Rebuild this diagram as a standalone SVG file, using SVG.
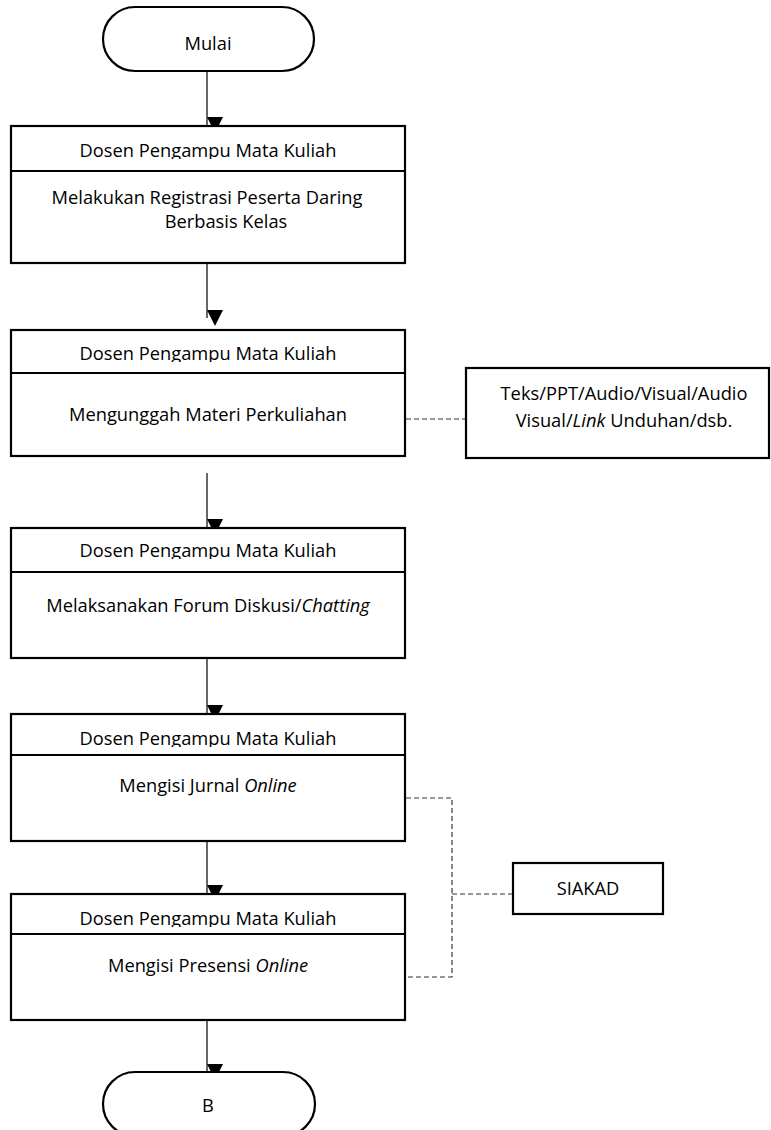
<svg xmlns="http://www.w3.org/2000/svg" width="771" height="1130" viewBox="0 0 771 1130">
<defs>
<style>
.box{fill:#fff;stroke:#000;stroke-width:2.2}
.div{stroke:#000;stroke-width:2.2}
.t{font-family:"Open Sans","Noto Sans",sans-serif;font-size:18.3px;fill:#000;text-anchor:middle}
.i{font-style:italic}
.arr{stroke:#000;stroke-width:1.2;fill:none;marker-end:url(#ah)}
.dash{stroke:#333;stroke-width:1.2;fill:none;stroke-dasharray:5,3}
</style>
<marker id="ah" markerUnits="userSpaceOnUse" markerWidth="16" markerHeight="16" refX="7.5" refY="15" orient="auto-start-reverse" viewBox="0 0 15 15">
<path d="M0,0 L15,0 L7.5,15 Z" fill="#000" transform="rotate(-90 7.5 7.5)"/>
</marker>
<clipPath id="c1"><rect x="11" y="126" width="394" height="33"/></clipPath>
<clipPath id="c2"><rect x="11" y="330" width="394" height="32"/></clipPath>
<clipPath id="c3"><rect x="11" y="528" width="394" height="31"/></clipPath>
<clipPath id="c4"><rect x="11" y="714" width="394" height="33"/></clipPath>
<clipPath id="c6"><rect x="11" y="894" width="394" height="33"/></clipPath>
</defs>
<rect width="771" height="1130" fill="#fff"/>

<g id="connectors">
<line class="arr" x1="207" y1="71" x2="207" y2="125"/>
<line class="arr" x1="207" y1="263" x2="207" y2="318"/>
<line class="arr" x1="207" y1="473" x2="207" y2="527"/>
<line class="arr" x1="207" y1="658" x2="207" y2="713"/>
<line class="arr" x1="207" y1="841" x2="207" y2="893"/>
<line class="arr" x1="207" y1="1020" x2="207" y2="1072"/>
<line class="dash" x1="406" y1="419" x2="466" y2="419"/>
<polyline class="dash" points="406,798 452,798 452,977 406,977"/>
<line class="dash" x1="452" y1="894" x2="513" y2="894"/>
</g>

<g id="start">
<rect class="box" x="103" y="7" width="211" height="64" rx="32" ry="32"/>
<text class="t" x="208" y="50">Mulai</text>
</g>

<g id="step1">
<rect class="box" x="11" y="126" width="394" height="137"/>
<line class="div" x1="11" y1="171" x2="405" y2="171"/>
<text class="t" x="208" y="157" clip-path="url(#c1)">Dosen Pengampu Mata Kuliah</text>
<text class="t" x="207" y="204">Melakukan Registrasi Peserta Daring</text>
<text class="t" x="226" y="228">Berbasis Kelas</text>
</g>

<g id="step2">
<rect class="box" x="11" y="330" width="394" height="126"/>
<line class="div" x1="11" y1="373" x2="405" y2="373"/>
<text class="t" x="208" y="360" clip-path="url(#c2)">Dosen Pengampu Mata Kuliah</text>
<text class="t" x="208" y="421">Mengunggah Materi Perkuliahan</text>
</g>

<g id="materi">
<rect class="box" x="466" y="368" width="303" height="90"/>
<text class="t" x="624" y="400">Teks/PPT/Audio/Visual/Audio</text>
<text class="t" x="624" y="427">Visual/<tspan class="i">Link</tspan> Unduhan/dsb.</text>
</g>

<g id="step3">
<rect class="box" x="11" y="528" width="394" height="130"/>
<line class="div" x1="11" y1="572" x2="405" y2="572"/>
<text class="t" x="208" y="557" clip-path="url(#c3)">Dosen Pengampu Mata Kuliah</text>
<text class="t" x="208" y="612">Melaksanakan Forum Diskusi/<tspan class="i">Chatting</tspan></text>
</g>

<g id="step4">
<rect class="box" x="11" y="714" width="394" height="127"/>
<line class="div" x1="11" y1="755" x2="405" y2="755"/>
<text class="t" x="208" y="745" clip-path="url(#c4)">Dosen Pengampu Mata Kuliah</text>
<text class="t" x="208" y="792">Mengisi Jurnal <tspan class="i">Online</tspan></text>
</g>

<g id="siakad">
<rect class="box" x="513" y="863" width="150" height="51"/>
<text class="t" x="588" y="895">SIAKAD</text>
</g>

<g id="step5">
<rect class="box" x="11" y="894" width="394" height="126"/>
<line class="div" x1="11" y1="934" x2="405" y2="934"/>
<text class="t" x="208" y="925" clip-path="url(#c6)">Dosen Pengampu Mata Kuliah</text>
<text class="t" x="208" y="972">Mengisi Presensi <tspan class="i">Online</tspan></text>
</g>

<g id="end">
<rect class="box" x="103" y="1072" width="212" height="64" rx="32" ry="32"/>
<text class="t" x="208" y="1112">B</text>
</g>
</svg>
